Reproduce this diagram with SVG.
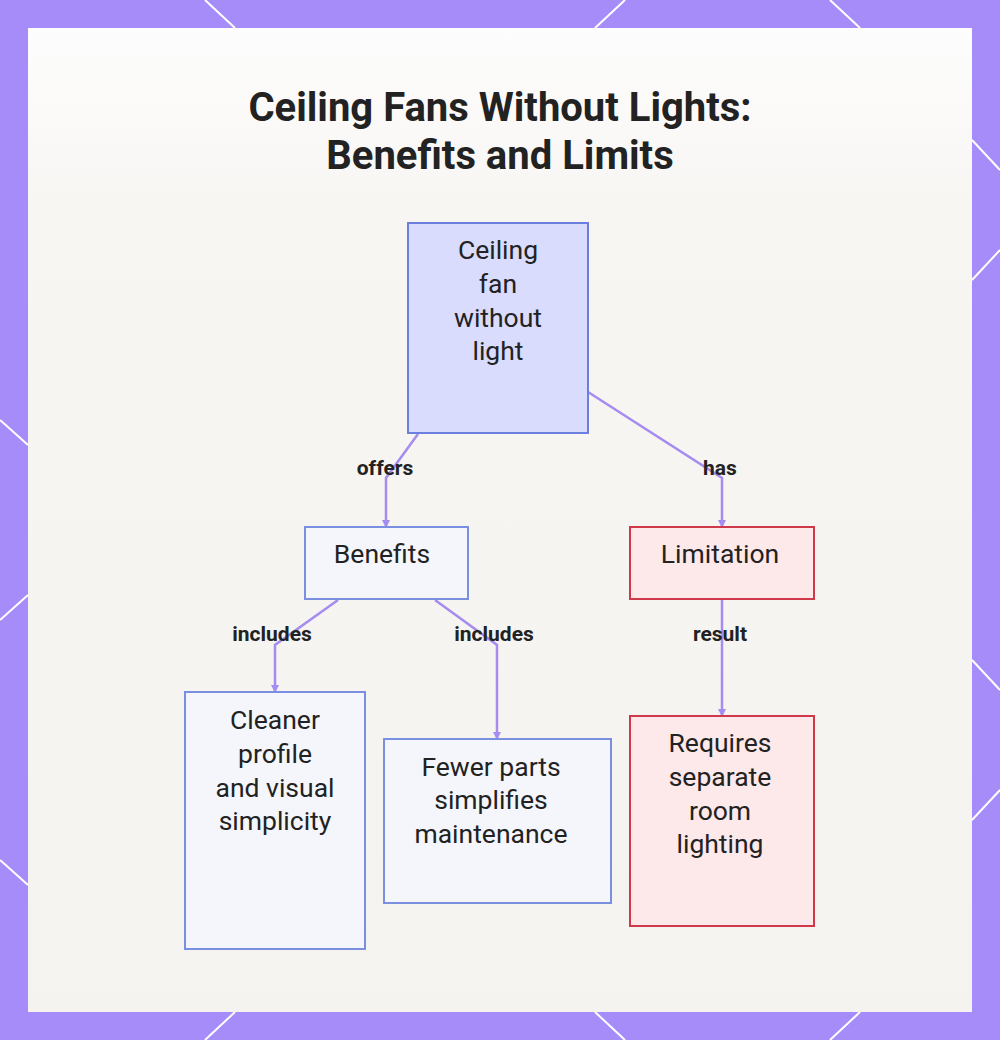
<svg xmlns="http://www.w3.org/2000/svg" width="1000" height="1040" viewBox="0 0 1000 1040">
<style>
.t{font-family:Roboto,"Liberation Sans",sans-serif;fill:#222;text-anchor:middle}
.n{font-size:26.5px}
.l{font-size:21px;font-weight:bold}
.h{font-size:40px;font-weight:bold}
.b{fill:#f5f6fc;stroke:#7b8fe0;stroke-width:2}
.r{fill:#fde8ea;stroke:#d0394a;stroke-width:2}
.c{fill:none;stroke:#a68cf0;stroke-width:2.5;marker-end:url(#a)}
.w{stroke:#fff;stroke-width:2}
</style>
<defs><marker id="a" markerWidth="8" markerHeight="8" refX="6" refY="4" orient="auto" markerUnits="userSpaceOnUse"><path d="M0,0L8,4L0,8z" fill="#a68cf0"/></marker>
<linearGradient id="g" x1="0" y1="0" x2="0" y2="1"><stop offset="0" stop-color="#fdfdfd"/><stop offset="0.18" stop-color="#f8f6f3"/><stop offset="1" stop-color="#f5f3ef"/></linearGradient></defs>
<rect width="1000" height="1040" fill="#a68cf8"/>
<g class="w"><line x1="205" y1="0" x2="235" y2="28"/><line x1="625" y1="0" x2="595" y2="28"/><line x1="830" y1="0" x2="860" y2="28"/><line x1="972" y1="140" x2="1000" y2="170"/><line x1="972" y1="280" x2="1000" y2="250"/><line x1="0" y1="420" x2="28" y2="445"/><line x1="0" y1="620" x2="28" y2="595"/><line x1="972" y1="660" x2="1000" y2="690"/><line x1="972" y1="820" x2="1000" y2="790"/><line x1="0" y1="860" x2="28" y2="885"/><line x1="205" y1="1040" x2="235" y2="1012"/><line x1="595" y1="1012" x2="625" y2="1040"/><line x1="830" y1="1040" x2="860" y2="1012"/></g>
<rect x="28" y="28" width="944" height="984" fill="url(#g)"/>
<text class="t h" x="500" y="121">Ceiling Fans Without Lights:</text>
<text class="t h" x="500" y="169">Benefits and Limits</text>
<g id="connectors">
<path class="c" d="M418,434L386,478V526"/>
<path class="c" d="M588,392L722,478V526"/>
<path class="c" d="M338,600L275,645V691"/>
<path class="c" d="M435,600L497,645V738"/>
<path class="c" d="M722,600V715"/>
<text class="t l" x="385" y="475">offers</text>
<text class="t l" x="720" y="475">has</text>
<text class="t l" x="272" y="641">includes</text>
<text class="t l" x="494" y="641">includes</text>
<text class="t l" x="720" y="641">result</text>
</g>
<g id="fan"><rect x="408" y="223" width="180" height="210" fill="#d9dcfc" stroke="#6a7fde" stroke-width="2"/>
<text class="t n" x="498" y="259">Ceiling</text><text class="t n" x="498" y="293">fan</text><text class="t n" x="498" y="327">without</text><text class="t n" x="498" y="360">light</text></g>
<g id="benefits"><rect class="b" x="305" y="527" width="163" height="72"/><text class="t n" x="382" y="563">Benefits</text></g>
<g id="limitation"><rect class="r" x="630" y="527" width="184" height="72"/><text class="t n" x="720" y="563">Limitation</text></g>
<g id="cleaner"><rect class="b" x="185" y="692" width="180" height="257"/>
<text class="t n" x="275" y="729">Cleaner</text><text class="t n" x="275" y="763">profile</text><text class="t n" x="275" y="797">and visual</text><text class="t n" x="275" y="830">simplicity</text></g>
<g id="fewer"><rect class="b" x="384" y="739" width="227" height="164"/>
<text class="t n" x="491" y="776">Fewer parts</text><text class="t n" x="491" y="809">simplifies</text><text class="t n" x="491" y="843">maintenance</text></g>
<g id="requires"><rect class="r" x="630" y="716" width="184" height="210"/>
<text class="t n" x="720" y="752">Requires</text><text class="t n" x="720" y="786">separate</text><text class="t n" x="720" y="820">room</text><text class="t n" x="720" y="853">lighting</text></g>
</svg>
